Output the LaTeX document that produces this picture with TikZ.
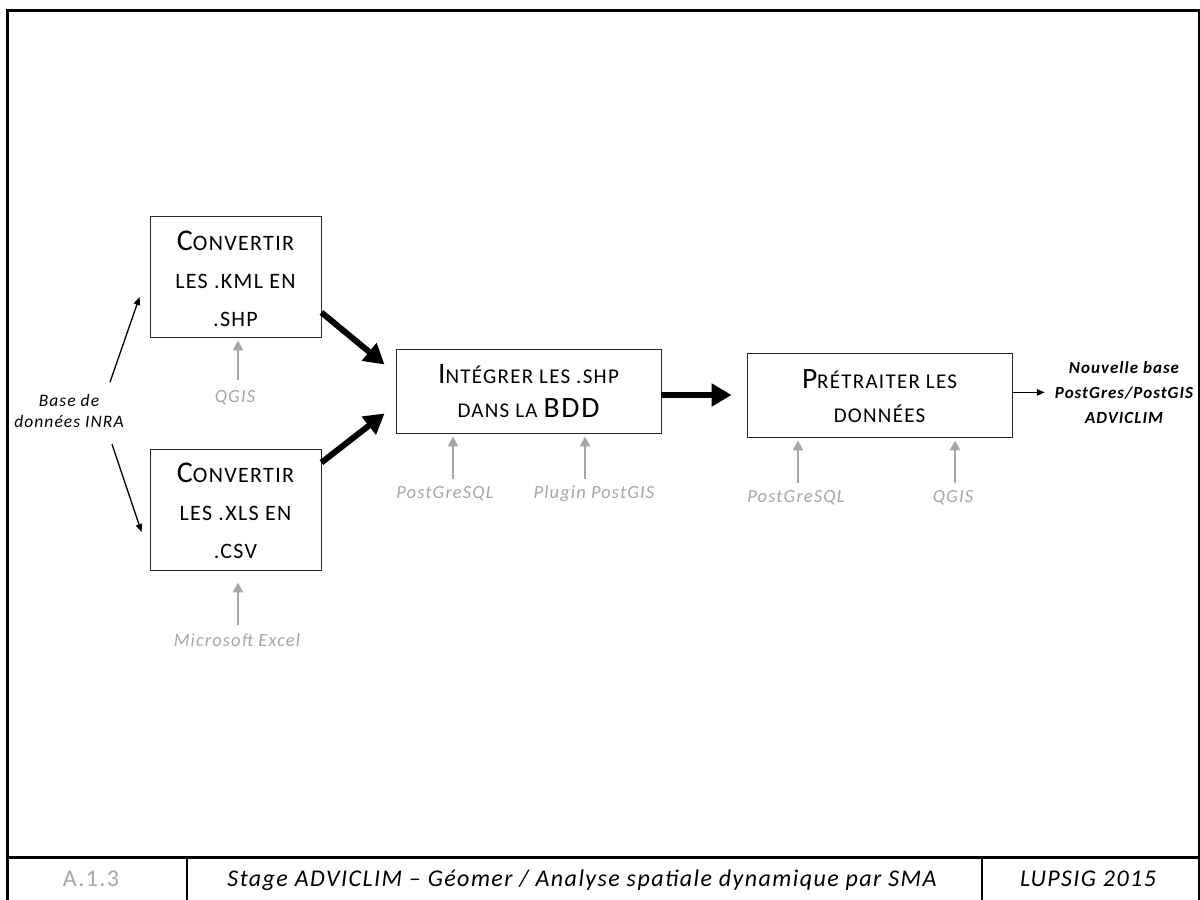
\documentclass[tikz,border=0pt]{standalone}
\usepackage{fontspec}
\setmainfont{Carlito}[LetterSpace=6]
\usetikzlibrary{arrows.meta,calc}
\definecolor{toolgray}{RGB}{166,166,166}
\definecolor{boxline}{RGB}{40,40,40}
% small-caps look: a full-size capital followed by reduced capitals
\newcommand\scbig[2][30pt]{{\fontsize{#1}{#1}\selectfont #2}}
\tikzset{
  box/.style={draw=boxline, line width=0.9pt, inner sep=0pt, align=center},
  convbox/.style={box, minimum width=171pt, minimum height=121pt,
    font=\fontsize{22pt}{38pt}\selectfont},
  stepbox/.style={box, minimum width=265pt, minimum height=84pt,
    font=\fontsize{21pt}{34pt}\selectfont},
  tool/.style={text=toolgray, font=\fontsize{18.5pt}{20pt}\selectfont\itshape,
    inner sep=0pt, anchor=base, text height=12pt, text depth=3pt},
  toolarrow/.style={draw=toolgray, line width=2.7pt, -{Triangle[length=10pt,width=10pt]}},
  flow/.style={line width=6pt, -{Triangle[length=20pt,width=22pt]}},
  thinarrow/.style={line width=1.3pt, -{Triangle[length=8pt,width=6.5pt]}},
  note/.style={font=\fontsize{17.5pt}{21pt}\selectfont\itshape, inner sep=0pt, align=center},
  footer/.style={font=\fontsize{24pt}{26pt}\selectfont, inner sep=0pt, anchor=base},
  frame/.style={line width=3pt},
}
\begin{document}
\begin{tikzpicture}[x=1pt, y=-1pt]
\useasboundingbox (0,0) rectangle (1200,900);

% page frame and footer table
\draw[frame] (7.5,900) -- (7.5,10.5) -- (1199.5,10.5) -- (1199.5,900);
\draw[frame] (7.5,857.5) -- (1199.5,857.5);
\draw[line width=2pt] (187,857.5) -- (187,900);
\draw[line width=2pt] (982,857.5) -- (982,900);

% process boxes
\node[convbox] (b1) at (235.5,276.5)
  {\rule{0pt}{25pt}\scbig{C}ONVERTIR\\LES .KML EN\\.SHP};
\node[convbox] (b2) at (235.5,509.5)
  {\rule{0pt}{22pt}\scbig{C}ONVERTIR\\LES .XLS EN\\.CSV};
\node[stepbox] (b3) at (528.5,391)
  {\rule{0pt}{16pt}\scbig[29.5pt]{I}NTÉGRER LES .SHP\\DANS LA \scbig[29.5pt]{BDD}};
\node[stepbox] (b4) at (879.5,395)
  {\rule{0pt}{22pt}\scbig[29.5pt]{P}RÉTRAITER LES\\DONNÉES};

% source and result
\node[note] (src) at (69,411.2) {Base de\\données INRA};
\node[note, font=\fontsize{17pt}{25pt}\selectfont\bfseries\itshape] (out) at (1124,392.4)
  {Nouvelle base\\PostGres/PostGIS\\ADVICLIM};

% tools
\node[tool] (q1) at (235,402) {QGIS};
\node[tool] (xl) at (237,646) {Microsoft Excel};
\node[tool] (pg1) at (445,498) {PostGreSQL};
\node[tool] (plg) at (594,498) {Plugin PostGIS};
\node[tool] (pg2) at (796,502) {PostGreSQL};
\node[tool] (q2) at (953,502) {QGIS};

% main flow
\draw[flow] ($(b1.south east)+(0,-25)$) -- ($(b3.north west)+(-11,16)$);
\draw[flow] ($(b2.north east)+(0,14)$) -- ($(b3.south west)+(-11,-20)$);
\draw[flow] (b3.east |- b4.west) -- ($(b4.west)+(-15,0)$);
\draw[thinarrow] (b4.east |- out.west) -- ($(out.west)+(-10,0)$);

% input branches
\draw[thinarrow] ($(src.center)+(41,-29)$) -- ($(b1.west)+(-10,20.5)$);
\draw[thinarrow] ($(src.center)+(43,33)$) -- ($(b2.west)+(-8,22.5)$);

% tool arrows
\draw[toolarrow] ($(q1.north)+(3,-10)$) -- ($(b1.south)+(2.5,3)$);
\draw[toolarrow] ($(xl.north)+(1,-9)$) -- ($(b2.south)+(2.5,12)$);
\draw[toolarrow] ($(pg1.north)+(8,-7)$) -- ($(b3.south)+(-75.5,3)$);
\draw[toolarrow] ($(plg.north)+(-9,-7)$) -- ($(b3.south)+(56.5,3)$);
\draw[toolarrow] ($(pg2.north)+(2,-7)$) -- ($(b4.south)+(-81.5,3)$);
\draw[toolarrow] ($(q2.north)+(2,-7)$) -- ($(b4.south)+(75.5,3)$);

% footer
\node[footer, text=toolgray] (code) at (91,886) {A.1.3};
\node[footer, font=\fontsize{24pt}{26pt}\selectfont\itshape] (title) at (582,886)
  {Stage ADVICLIM -- Géomer / Analyse spatiale dynamique par SMA};
\node[footer, font=\fontsize{24pt}{26pt}\selectfont\itshape] (org) at (1088,886) {LUPSIG 2015};
\end{tikzpicture}
\end{document}
